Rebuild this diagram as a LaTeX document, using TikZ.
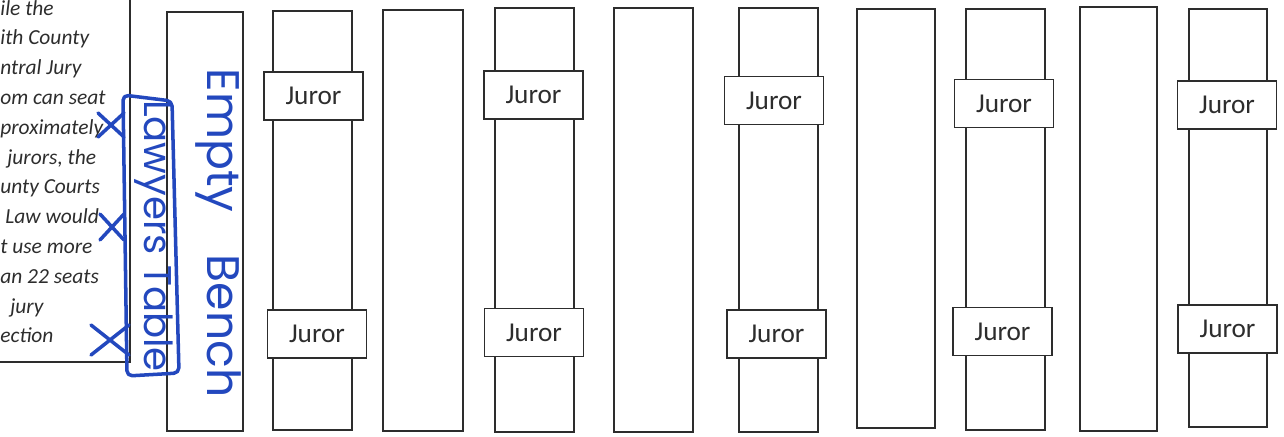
\documentclass[tikz,border=0pt]{standalone}
\usepackage{fontspec}
\setmainfont{Carlito}
\newfontfamily\handfont{Poppins}
\definecolor{penblue}{RGB}{35,72,190}
\definecolor{ink}{RGB}{45,45,45}

\begin{document}
\begin{tikzpicture}[x=0.02cm, y=-0.02cm,
    seat/.style={draw=ink, line width=1pt},
    juror/.style={draw=ink, fill=white, line width=1pt, text=ink,
      minimum width=1.98cm, minimum height=0.96cm, inner sep=0pt,
      font=\fontsize{15.5}{16}\selectfont},
    notetext/.style={anchor=base west, inner sep=0pt, text=ink,
      font=\itshape\fontsize{12.2}{14}\selectfont},
    pen/.style={penblue, line width=2pt, line cap=round, line join=round},
    scrawl/.style={text=penblue, rotate=-90, inner sep=0pt,
      font=\handfont\fontsize{26}{26}\selectfont}]
  \useasboundingbox (0,0) rectangle (1284,436);

  % Note box, running off the left edge
  \draw[ink, line width=0.8pt] (130,0) -- (130,362) -- (0,362);
  \foreach \dx/\txt [count=\i] in {0/ile the, 0/ith County, 0/ntral Jury,
      0/om can seat, 0/proximately, 7/{jurors, the}, 0/unty Courts,
      5/Law would, 0/t use more, 0/an 22 seats, 10/jury, 0/ection}
    \node[notetext] (note\i) at (\dx, {15+29.8*(\i-1)}) {\txt};

  % Bench and seat rows: left/right/top/bottom
  \foreach \l/\r/\t/\b in {167/243/12/431, 273/352/11/430, 383/463/10/431,
      495/574/8/432, 614/693/8/432, 739/818/8/432, 857/935/9/428,
      966/1045/9/430, 1080/1157/7/431, 1189/1267/9/427}
    \draw[seat] (\l,\t) rectangle (\r,\b);

  % Juror cards
  \foreach \cx/\cy/\nm in {313.5/96/jA, 317/334/jB, 533.5/95/jC, 534/332.5/jD,
      774/100.5/jE, 776.5/334/jF, 1004/103.5/jG, 1002.5/331.5/jH,
      1227/105/jI, 1227.5/329/jJ}
    \node[juror] (\nm) at (\cx,\cy) {Juror};

  % Pen marks
  \node[scrawl] (bench) at (218,233) {Empty\hspace{0.85cm}Bench};
  \node[scrawl] (lawyers) at (154,236) {\fontsize{22}{22}\selectfont Lawyers Table};
  \draw[pen, rounded corners=3pt] (123,95) -- (172,101) -- (179,373)
    -- (127,376) -- cycle;
  \foreach \cx/\cy/\sx/\sy in {111/125/13/12, 112/227/12/13, 110/340/19/15}
    \draw[pen] ({\cx-\sx},{\cy-\sy}) -- ({\cx+\sx},{\cy+\sy})
      ({\cx-\sx},{\cy+\sy}) -- ({\cx+\sx},{\cy-\sy});
\end{tikzpicture}
\end{document}
